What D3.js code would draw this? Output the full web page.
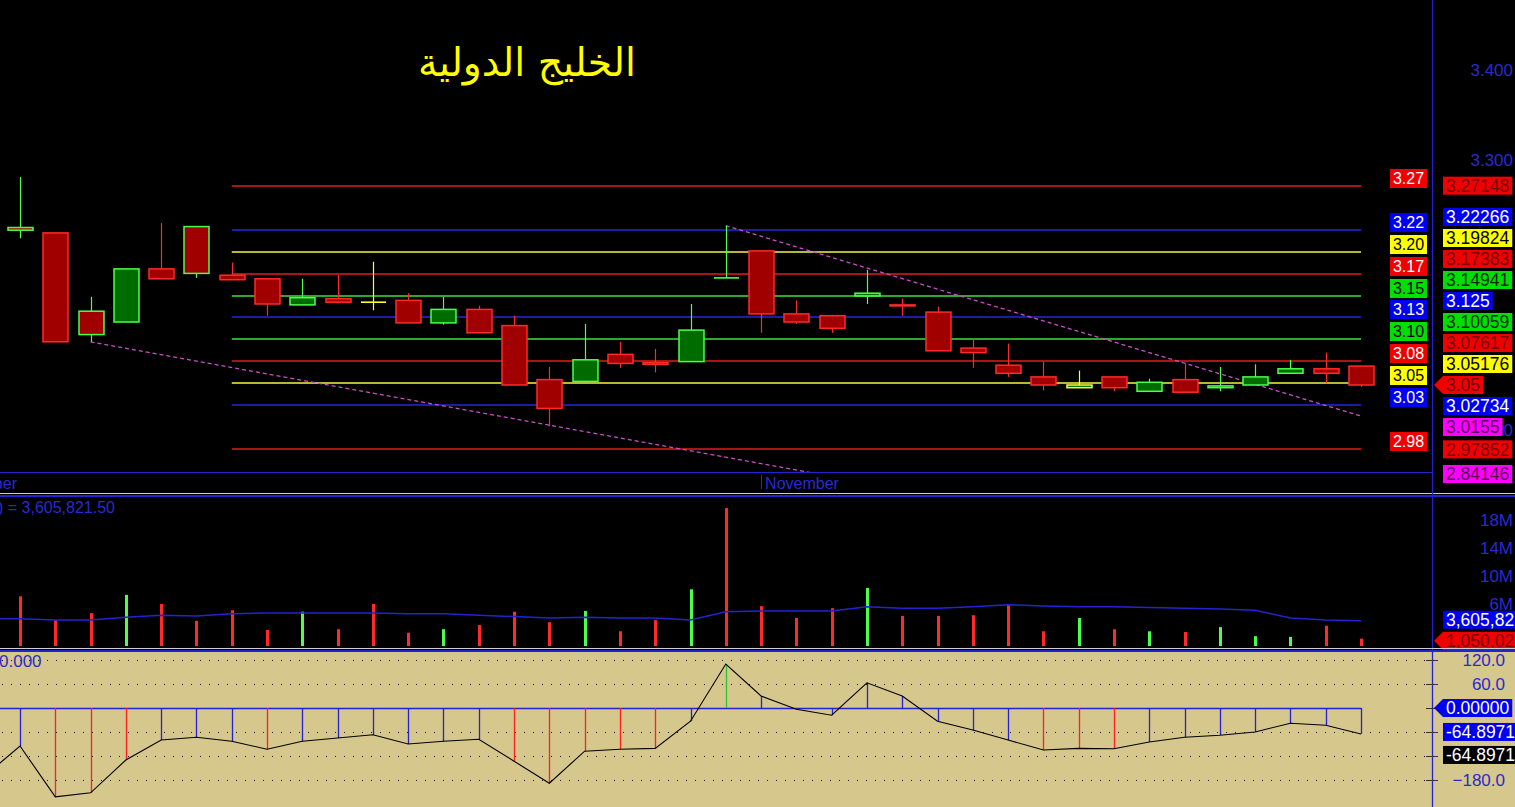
<!DOCTYPE html>
<html><head><meta charset="utf-8">
<script src="https://cdn.jsdelivr.net/npm/d3@7"></script>
<style>html,body{margin:0;padding:0;background:#000;overflow:hidden}svg{display:block}</style>
</head><body>
<svg id="c" width="1515" height="807"></svg>
<script>
// ---------------- DATA ----------------
const title = "الخليج الدولية";
const monthLabels = ["October", "November"];
const monthStart = [null, 21];           // bar index where each month begins (October begins off-chart)
const open  = [3.225,3.219,3.132,3.120,3.179,3.226,3.172,3.168,3.139,3.146,3.142,3.144,3.119,3.134,3.116,3.056,3.054,3.084,3.075,3.076,3.169,3.199,3.129,3.127,3.149,3.139,3.131,3.091,3.072,3.059,3.047,3.059,3.043,3.056,3.047,3.050,3.063,3.068,3.071];
const high  = [3.281,3.219,3.148,3.179,3.230,3.226,3.186,3.168,3.168,3.172,3.187,3.152,3.148,3.138,3.127,3.070,3.118,3.098,3.090,3.140,3.227,3.199,3.144,3.128,3.178,3.146,3.137,3.102,3.096,3.076,3.066,3.059,3.057,3.074,3.070,3.073,3.078,3.086,3.071];
const low   = [3.213,3.098,3.098,3.120,3.168,3.169,3.167,3.127,3.139,3.141,3.133,3.119,3.117,3.108,3.050,3.004,3.052,3.069,3.064,3.076,3.169,3.108,3.118,3.108,3.140,3.127,3.088,3.069,3.059,3.044,3.047,3.043,3.043,3.042,3.043,3.050,3.063,3.052,3.048];
const close = [3.222,3.098,3.106,3.179,3.168,3.174,3.167,3.140,3.147,3.142,3.142,3.119,3.134,3.108,3.050,3.024,3.078,3.074,3.073,3.111,3.169,3.129,3.120,3.113,3.152,3.138,3.088,3.086,3.063,3.050,3.050,3.047,3.053,3.042,3.049,3.059,3.068,3.063,3.050];
const closeBeforeFirst = 3.20;
const lastPrice = 3.05;
const volume   = [7.1,3.7,4.7,7.3,6.0,3.6,5.1,2.3,4.9,2.4,6.0,1.9,2.4,3.0,4.9,3.4,5.0,2.1,3.7,8.1,19.7,5.7,4.0,5.4,8.3,4.3,4.3,4.4,6.0,2.1,4.0,2.4,2.1,2.0,2.7,1.4,1.3,2.9,1.05]; // millions
const volumeMA = [3.9,3.7,3.7,4.1,4.4,4.3,4.6,4.7,4.7,4.7,4.7,4.6,4.6,4.4,4.2,4.0,4.1,4.0,4.0,3.7,4.9,5.0,5.0,5.0,5.6,5.4,5.4,5.6,5.9,5.7,5.6,5.6,5.5,5.4,5.3,5.1,4.0,3.7,3.61];
const volumeMABeforeFirst = 3.9;
const volMALabel = ") = 3,605,821.50";
const volTagLabels = ["3,605,82", "1,050,02"];
const cci = [-95,-222,-212,-130,-80,-73,-83,-103,-83,-75,-67,-90,-83,-78,-133,-188,-108,-103,-101,-33,110,30,-3,-18,63,30,-33,-55,-80,-105,-101,-102,-85,-73,-68,-60,-38,-43,-64.8971];
const cciBeforeFirst = -170;
const cciLabel = "0.000";
const cciTagLabels = ["0.00000", "-64.8971", "-64.8971"];
const fibLevels = [3.27148,3.22266,3.19824,3.17383,3.14941,3.125,3.10059,3.07617,3.05176,3.02734,2.97852];
const fibShort  = ["3.27","3.22","3.20","3.17","3.15","3.13","3.10","3.08","3.05","3.03","2.98"];
const fibFrom = 6, fibTo = 38;
const trendUpper = [[20, 3.227], [38, 3.0155]];
const trendLower = [[2, 3.098], [38, 2.84146]];
const priceTicks = [3.4, 3.3, 3.0];
const volTicks = [18, 14, 10, 6];
const cciTicks = [120, 60, -180];
const cciGrid = [120, 60, -60, -120, -180];

// ---------------- STYLE ----------------
const C = {
  bg:"#000", tan:"#d6c78c", blue:"#2323d2", axisTxt:"#2a2ad0",
  red:"#ff2a2a", lime:"#4cff4c", yellow:"#ffff30",
  fillRed:"#a00000", fillGreen:"#006c00", magenta:"#c850c8"
};
const fibStyle = ["r","b","y","r","g","b","g","r","y","b","r"];
const lineCol = {r:"#e01c1c", b:"#2626e0", y:"#f4f440", g:"#3ce03c", m:"#ff00ff"};
const tagBg  = {r:"#f00000", b:"#0000f0", y:"#ffff00", g:"#00e000", m:"#ff00ff", k:"#000000"};
const tagFg  = {r:"#7a0000", b:"#ffffff", y:"#000000", g:"#002800", m:"#5a005a", k:"#ffffff"};
const FONT = "'Liberation Sans', Arial, sans-serif";

// ---------------- LAYOUT ----------------
const W = 1515, H = 807, AX = 1432;
const mainBottom = 472, volTop = 497, volBottom = 648, oscTop = 651;
const svg = d3.select("#c");
const x  = d3.scaleLinear().domain([0, 38]).range([20, 1361]);
const y  = d3.scaleLinear().domain([3.3, 3.4]).range([160, 70]);
const yv = d3.scaleLinear().domain([0, 18]).range([646, 520]);
const yc = d3.scaleLinear().domain([0, 120]).range([708, 660]);

svg.append("rect").attr("width", W).attr("height", H).attr("fill", C.bg);
svg.append("rect").attr("y", oscTop).attr("width", W).attr("height", H - oscTop).attr("fill", C.tan);

const defs = svg.append("defs");
function clip(id, x0, y0, w, h){ defs.append("clipPath").attr("id", id).append("rect").attr("x",x0).attr("y",y0).attr("width",w).attr("height",h); }
clip("cMain", 0, 0, AX, mainBottom);
clip("cVol", 0, volTop, AX, volBottom - volTop);
clip("cOsc", 0, oscTop, AX, H - oscTop);

// ---------- title ----------
const t = svg.append("text").attr("x", 527).attr("y", 76).attr("text-anchor","middle")
  .attr("fill","#ffff00").attr("font-family","'DejaVu Sans', sans-serif").attr("font-size", 34)
  .attr("direction","rtl").text(title);
const tw = t.node().getComputedTextLength();
t.attr("font-size", 34 * 218 / tw);

// ---------- main panel ----------
const gm = svg.append("g").attr("clip-path","url(#cMain)");
fibLevels.forEach((v,i) => {
  gm.append("line").attr("x1", x(fibFrom)).attr("x2", x(fibTo)).attr("y1", Math.round(y(v))).attr("y2", Math.round(y(v)))
    .attr("stroke", lineCol[fibStyle[i]]).attr("stroke-width",1.6);
});
function trend(pts){
  const [[i0,p0],[i1,p1]] = pts;
  gm.append("line").attr("x1", x(i0)).attr("y1", y(p0)).attr("x2", x(i1)).attr("y2", y(p1))
    .attr("stroke", C.magenta).attr("stroke-width",1.3).attr("stroke-dasharray","4,3");
}
trend(trendUpper); trend(trendLower);

const half = 12.5;
open.forEach((o,i) => {
  const c = close[i], pc = i === 0 ? closeBeforeFirst : close[i-1];
  const sc = c > pc + 1e-9 ? C.lime : c < pc - 1e-9 ? C.red : C.yellow;
  const xi = Math.round(x(i)) + 0.5;
  gm.append("line").attr("x1", xi).attr("x2", xi).attr("y1", y(high[i])).attr("y2", y(low[i]))
    .attr("stroke", sc).attr("stroke-width", 1.2);
  if (Math.abs(o - c) < 1e-9) {
    gm.append("line").attr("x1", xi - half).attr("x2", xi + half).attr("y1", y(o)).attr("y2", y(o))
      .attr("stroke", sc).attr("stroke-width", 1.6);
  } else {
    const top = y(Math.max(o,c)), bot = y(Math.min(o,c));
    gm.append("rect").attr("x", xi - half).attr("y", top).attr("width", 2*half).attr("height", Math.max(1, bot - top))
      .attr("fill", c > o ? C.fillGreen : C.fillRed).attr("stroke", sc).attr("stroke-width", 1.5);
  }
});

// separators
svg.append("line").attr("x1",0).attr("x2",AX).attr("y1",mainBottom+0.5).attr("y2",mainBottom+0.5).attr("stroke",C.blue).attr("stroke-width",1).attr("shape-rendering","crispEdges");
svg.append("line").attr("x1",0).attr("x2",W).attr("y1",493.5).attr("y2",493.5).attr("stroke","#c8c8f0").attr("stroke-width",1).attr("shape-rendering","crispEdges");
svg.append("line").attr("x1",0).attr("x2",W).attr("y1",495.5).attr("y2",495.5).attr("stroke",C.blue).attr("stroke-width",2).attr("shape-rendering","crispEdges");
svg.append("line").attr("x1",0).attr("x2",W).attr("y1",648.5).attr("y2",648.5).attr("stroke","#d0d0d0").attr("stroke-width",1).attr("shape-rendering","crispEdges");
svg.append("line").attr("x1",0).attr("x2",W).attr("y1",650.5).attr("y2",650.5).attr("stroke",C.blue).attr("stroke-width",2).attr("shape-rendering","crispEdges");

// month labels
svg.append("text").attr("x", x(0) - 3).attr("y", 489).attr("text-anchor","end").attr("fill",C.axisTxt)
  .attr("font-family",FONT).attr("font-size",16).text(monthLabels[0]);
svg.append("line").attr("x1", Math.round(x(monthStart[1]))+0.5).attr("x2", Math.round(x(monthStart[1]))+0.5)
  .attr("y1", 475).attr("y2", 489).attr("stroke", C.axisTxt).attr("stroke-width",1);
svg.append("text").attr("x", x(monthStart[1]) + 4).attr("y", 489).attr("fill",C.axisTxt)
  .attr("font-family",FONT).attr("font-size",16).text(monthLabels[1]);

// ---------- volume panel ----------
const gv = svg.append("g").attr("clip-path","url(#cVol)");
volume.forEach((v,i) => {
  gv.append("rect").attr("x", Math.round(x(i)) - 1).attr("y", yv(v)).attr("width", 3).attr("height", yv(0) - yv(v))
    .attr("fill", close[i] > open[i] ? C.lime : C.red);
});
const maPts = [[-1, volumeMABeforeFirst]].concat(volumeMA.map((v,i)=>[i,v]));
gv.append("path").attr("d", d3.line().x(d=>x(d[0])).y(d=>yv(d[1]))(maPts))
  .attr("fill","none").attr("stroke",C.blue).attr("stroke-width",1.5);
svg.append("text").attr("x", -2).attr("y", 513).attr("fill", C.axisTxt).attr("font-family",FONT).attr("font-size",16).text(volMALabel);

// ---------- oscillator panel ----------
const go = svg.append("g").attr("clip-path","url(#cOsc)");
cciGrid.forEach(v => {
  go.append("line").attr("x1", 2).attr("x2", AX).attr("y1", Math.round(yc(v))+0.5).attr("y2", Math.round(yc(v))+0.5)
    .attr("stroke","#111").attr("stroke-width",1).attr("stroke-dasharray","1,8").attr("shape-rendering","crispEdges");
});
go.append("line").attr("x1",0).attr("x2",x(38)).attr("y1",Math.round(yc(0))+0.5).attr("y2",Math.round(yc(0))+0.5)
  .attr("stroke",C.blue).attr("stroke-width",1.3);
cci.forEach((v,i) => {
  const xi = Math.round(x(i)) + 0.5;
  go.append("line").attr("x1", xi).attr("x2", xi).attr("y1", yc(0)).attr("y2", yc(v))
    .attr("stroke", v > 100 ? "#30c030" : v < -100 ? "#ff2020" : C.blue).attr("stroke-width", 1.3);
});
const cciPts = [[-1, cciBeforeFirst]].concat(cci.map((v,i)=>[i,v]));
go.append("path").attr("d", d3.line().x(d=>x(d[0])).y(d=>yc(d[1]))(cciPts))
  .attr("fill","none").attr("stroke","#000").attr("stroke-width",1.1);
svg.append("text").attr("x", -1).attr("y", 667).attr("fill", C.axisTxt).attr("font-family",FONT).attr("font-size",17).text(cciLabel);

// ---------- right axis ----------
svg.append("line").attr("x1",AX+0.5).attr("x2",AX+0.5).attr("y1",0).attr("y2",H).attr("stroke",C.blue).attr("stroke-width",1.3);

const axG = svg.append("g").attr("font-family",FONT);
priceTicks.forEach(v => {
  axG.append("text").attr("x",1513).attr("y",y(v)+6).attr("text-anchor","end").attr("fill",C.axisTxt).attr("font-size",17).text(d3.format(".3f")(v));
});
volTicks.forEach(v => {
  axG.append("text").attr("x",1513).attr("y",yv(v)+6).attr("text-anchor","end").attr("fill",C.axisTxt).attr("font-size",17).text(v + "M");
});
cciTicks.concat([0,-60,-120]).forEach(v => {
  axG.append("line").attr("x1",1426).attr("x2",1438).attr("y1",Math.round(yc(v))+0.5).attr("y2",Math.round(yc(v))+0.5).attr("stroke","#333").attr("stroke-width",1);
});
cciTicks.forEach(v => {
  axG.append("text").attr("x",1505).attr("y",yc(v)+6).attr("text-anchor","end").attr("fill",C.axisTxt).attr("font-size",17).text(d3.format(".1f")(v));
});

// tag helper
function tag(cy, text, kind, opts = {}){
  const g = axG.append("g");
  const x0 = 1443, fs = opts.fs || 17.5;
  const tx = g.append("text").attr("x", x0 + 3).attr("y", cy + 6.3).attr("font-size", fs).attr("fill", tagFg[kind]).text(text);
  const w = tx.node().getComputedTextLength() + 6;
  const h = 18;
  if (opts.arrow) {
    g.insert("path","text").attr("d", `M${AX+2},${cy} L${x0},${cy-h/2} L${x0+w},${cy-h/2} L${x0+w},${cy+h/2} L${x0},${cy+h/2} Z`).attr("fill", tagBg[kind]);
  } else {
    g.insert("rect","text").attr("x", x0).attr("y", cy - h/2).attr("width", w).attr("height", h).attr("fill", tagBg[kind]);
  }
}

// fib labels left of axis
fibLevels.forEach((v,i) => {
  const ly = Math.round(y(v));
  const k = fibStyle[i];
  svg.append("rect").attr("x",1390).attr("y",ly-17).attr("width",37).attr("height",19).attr("fill",tagBg[k]);
  svg.append("text").attr("x",1408.5).attr("y",ly-2).attr("text-anchor","middle").attr("font-family",FONT).attr("font-size",16)
    .attr("fill", (k==="y"||k==="g") ? "#000" : "#fff").text(fibShort[i]);
});

// price tags with collision layout around current price
const tags = fibLevels.map((v,i)=>({v, text:String(v), kind:fibStyle[i]}));
tags.push({v:lastPrice, text:String(lastPrice), kind:"r", arrow:true, cur:true});
tags.push({v:trendUpper[1][1], text:String(trendUpper[1][1]), kind:"m"});
tags.push({v:trendLower[1][1], text:String(trendLower[1][1]), kind:"m"});
tags.sort((a,b)=> b.v - a.v || (a.cur ? 1 : -1));
const ai = tags.findIndex(d=>d.cur);
tags[ai].py = y(tags[ai].v);
for (let j = ai-1; j >= 0; j--) tags[j].py = Math.min(y(tags[j].v), tags[j+1].py - 21);
for (let j = ai+1; j < tags.length; j++) tags[j].py = Math.min(mainBottom + 2, Math.max(y(tags[j].v), tags[j-1].py + 21));
tags.forEach(d => tag(d.py, d.text, d.kind, {arrow: d.arrow}));

// volume tags
tag(yv(volumeMA[volumeMA.length-1]) - 1, volTagLabels[0], "b");
tag(Math.min(yv(volume[volume.length-1]) + 2, 641), volTagLabels[1], "r", {arrow:true});
svg.append("line").attr("x1",AX).attr("x2",W).attr("y1",648.5).attr("y2",648.5).attr("stroke","#d0d0d0").attr("stroke-width",1).attr("shape-rendering","crispEdges");
svg.append("line").attr("x1",AX).attr("x2",W).attr("y1",650.5).attr("y2",650.5).attr("stroke",C.blue).attr("stroke-width",2).attr("shape-rendering","crispEdges");

// oscillator tags
tag(yc(0), cciTagLabels[0], "b", {arrow:true});
tag(yc(cci[cci.length-1]) - 2, cciTagLabels[1], "b");
tag(yc(cci[cci.length-1]) + 21, cciTagLabels[2], "k");
</script>
</body></html>
